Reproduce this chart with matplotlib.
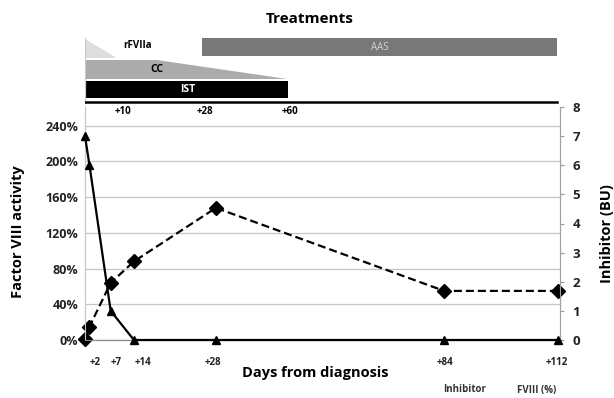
import matplotlib
matplotlib.use('Agg')
import matplotlib.pyplot as plt
from matplotlib.patches import Polygon, Rectangle

plt.rcParams['font.family'] = ['Open Sans', 'DejaVu Sans']

# sample positions on the day axis (schematic spacing from the original)
days_x = [-4.1, -3.0, 2.2, 7.9, 28, 84, 112]
fviii = [1, 15, 64, 88, 148, 55, 55]        # %
inhibitor = [7, 6, 1, 0, 0, 0, 0]           # BU

day_labels = ['+2', '+7', '+14', '+28', '+84', '+112']
day_label_pos = [-1.7, 3.5, 10.1, 27.3, 84.3, 111.7]

left_ticks = [0, 40, 80, 120, 160, 200, 240]
right_ticks = [0, 1, 2, 3, 4, 5, 6, 7, 8]

# treatments panel
trt_names = ['rFVIIa', 'CC', 'IST', 'AAS']
trt_start = [-4.1, -4.1, -4.1, 24.6]
trt_taper = [-4.1, 13.5, None, None]   # where the wedge starts narrowing
trt_end = [3.7, 45.5, 45.7, 111.7]
trt_marks = ['+10', '+28', '+60']
trt_mark_pos = [5.2, 25.3, 46.2]

W, H = 614, 398
fig = plt.figure(figsize=(W / 100, H / 100), dpi=100, facecolor='white')

x0, x1 = 85, 560
ax = fig.add_axes([x0 / W, 58 / H, (x1 - x0) / W, 233 / H])
ax2 = ax.twinx()

ax.set_xlim(-4.1, 112.4)
ax.set_ylim(0, 261)
ax2.set_ylim(0, 8)

ax.set_yticks(left_ticks)
ax.set_yticklabels(['%d%%' % v for v in left_ticks])
ax2.set_yticks(right_ticks)
ax.set_xticks(day_label_pos)
ax.set_xticklabels(day_labels)

ax.yaxis.grid(True, color='#c6c6c6', lw=0.9)
ax.set_axisbelow(True)
ax.tick_params(axis='y', length=0, pad=5, labelsize=9, labelcolor='#222222')
ax.tick_params(axis='x', length=0, pad=12, labelsize=7, labelcolor='#222222')
ax2.tick_params(axis='y', length=3, width=0.8, color='#999999', pad=6,
                labelsize=9.5, labelcolor='#222222')
for lab in ax.get_yticklabels() + ax.get_xticklabels() + ax2.get_yticklabels():
    lab.set_fontweight('bold')

for a in (ax, ax2):
    a.spines['top'].set_visible(False)
    a.spines['left'].set_color('#c8c8c8')
    a.spines['bottom'].set_color('#888888')
    a.spines['right'].set_color('#a0a0a0')
    a.patch.set_alpha(0)

ax.plot(days_x, fviii, color='black', lw=1.6, ls=(0, (3.6, 1.8)),
        marker='D', ms=7.5, clip_on=False, zorder=3)
ax2.plot(days_x, inhibitor, color='black', lw=1.6, marker='^', ms=5.5,
         clip_on=False, zorder=3)

fig.text(18 / W, 1 - 232 / H, 'Factor VIII activity', rotation=90,
         ha='center', va='center', fontsize=10.5, fontweight='bold')
fig.text(607 / W, 1 - 234 / H, 'Inhibitor (BU)', rotation=90,
         ha='center', va='center', fontsize=10.5, fontweight='bold')
fig.text(315 / W, 1 - 373 / H, 'Days from diagnosis', ha='center',
         va='center', fontsize=10.5, fontweight='bold')
fig.text(465 / W, 1 - 390 / H, 'Inhibitor', ha='center', va='center',
         fontsize=7, fontweight='bold', color='#333333')
fig.text(537 / W, 1 - 390 / H, 'FVIII (%)', ha='center', va='center',
         fontsize=7, fontweight='bold', color='#333333')

# treatments schematic
axt = fig.add_axes([x0 / W, 1 - 104 / H, (x1 - x0) / W, 70 / H])
axt.set_xlim(ax.get_xlim())
axt.set_ylim(104, 34)
axt.axis('off')

rows = {'rFVIIa': (39, 58), 'CC': (60, 79), 'IST': (81, 98), 'AAS': (38, 56)}
colors = {'rFVIIa': '#dedede', 'CC': '#ababab', 'IST': 'black', 'AAS': '#787878'}

for name, s, tp, e in zip(trt_names, trt_start, trt_taper, trt_end):
    top, bot = rows[name]
    if tp is None:
        axt.add_patch(Rectangle((s, top), e - s, bot - top, color=colors[name], lw=0))
    else:
        axt.add_patch(Polygon([(s, top), (tp, top), (e, bot), (s, bot)],
                              closed=True, color=colors[name], lw=0))

axt.plot([trt_start[0], trt_start[0]], [38, 104], color='#c8c8c8', lw=0.9)
axt.plot([trt_start[0], trt_end[3]], [101.5, 101.5], color='black', lw=1.8)

axt.text(5.3, 45, 'rFVIIa', ha='left', va='center', fontsize=7, fontweight='bold')
axt.text(13.5, 69.5, 'CC', ha='center', va='center', fontsize=7.5, fontweight='bold')
axt.text(21, 90, 'IST', ha='center', va='center', fontsize=7.5,
         fontweight='bold', color='white')
axt.text(68.2, 47, 'AAS', ha='center', va='center', fontsize=7, color='#d4d4d4')
for lab, p in zip(trt_marks, trt_mark_pos):
    axt.text(p, 112, lab, ha='center', va='center', fontsize=7,
             fontweight='bold', clip_on=False)

fig.text(310 / W, 1 - 19 / H, 'Treatments', ha='center', va='center',
         fontsize=11, fontweight='bold')

fig.savefig('out.png', dpi=100, facecolor='white')
